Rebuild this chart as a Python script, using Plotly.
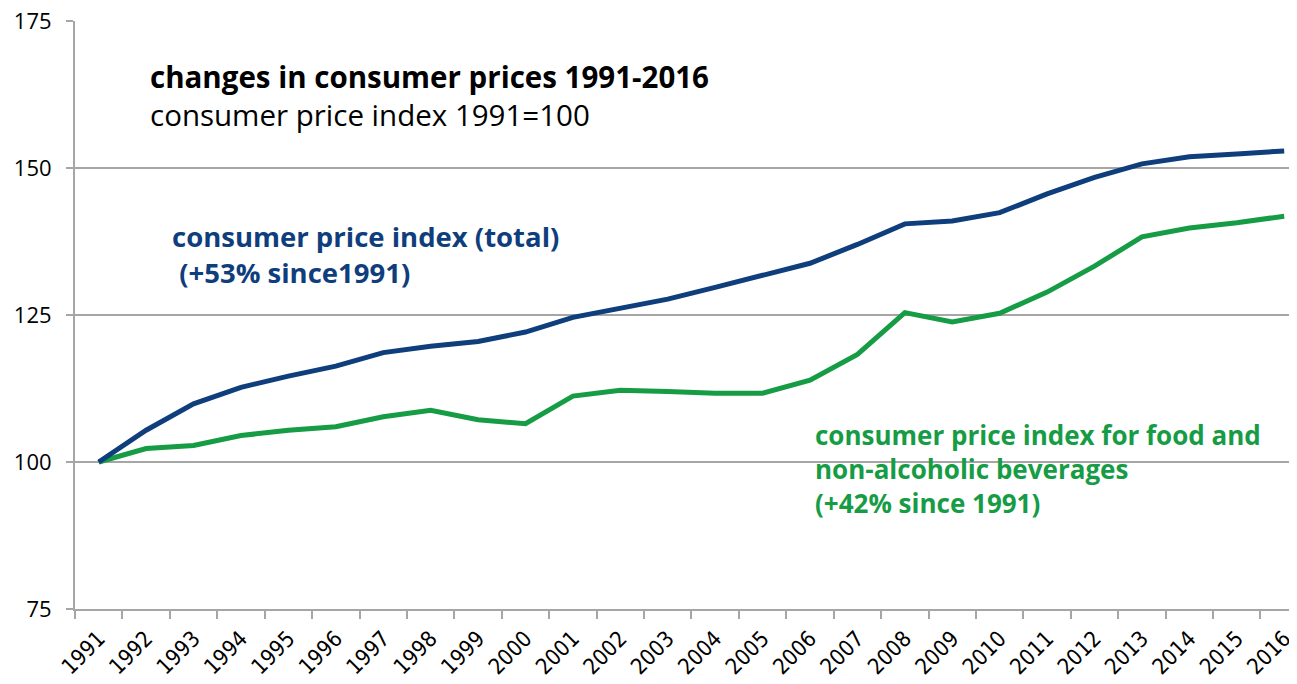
import plotly.graph_objects as go

years = [str(y) for y in range(1991, 2017)]
cpi_total = [100, 105.4, 109.9, 112.7, 114.6, 116.3, 118.6, 119.7, 120.5, 122.1,
             124.6, 126.2, 127.7, 129.7, 131.8, 133.8, 137.0, 140.5, 141.0, 142.4,
             145.6, 148.4, 150.7, 151.9, 152.4, 152.9]
cpi_food = [100, 102.3, 102.8, 104.5, 105.4, 106.0, 107.7, 108.8, 107.2, 106.5,
            111.2, 112.2, 112.0, 111.7, 111.7, 113.9, 118.3, 125.4, 123.8, 125.3,
            128.9, 133.3, 138.3, 139.8, 140.7, 141.8]
y_ticks = [75, 100, 125, 150, 175]

BLUE = "#0f3e7c"
GREEN = "#169c44"
GRAY = "#a6a6a6"
FONT = "Open Sans"

# the page body adds an 8px offset; size the figure so page positions match
OFF = 8
W, H = 1297 - OFF, 684 - OFF
L, R, T, B = 75 - OFF, 0, 21 - OFF, 75

fig = go.Figure()
fig.add_trace(go.Scatter(x=years, y=cpi_food, mode="lines",
                         line=dict(color=GREEN, width=5), name="food"))
fig.add_trace(go.Scatter(x=years, y=cpi_total, mode="lines",
                         line=dict(color=BLUE, width=5), name="total"))

def px(xp):
    return (xp - OFF - L) / (W - L - R)

def py(yp):
    return (H - B - (yp - OFF)) / (H - T - B)

anns = [
    ("<b>changes in consumer prices 1991-2016</b><br>consumer price index 1991=100",
     148, 95, "black", 29.5),
    ("<b>consumer price index (total)<br>&nbsp;(+53% since1991)</b>", 170, 254, BLUE, 27.5),
    ("<b>consumer price index for food and<br>non-alcoholic beverages<br>(+42% since 1991)</b>",
     813, 469, GREEN, 26),
]
for text, xp, yp, col, size in anns:
    fig.add_annotation(text=text, x=px(xp), y=py(yp), xref="paper", yref="paper",
                       xanchor="left", yanchor="middle", align="left", showarrow=False,
                       font=dict(family=FONT, size=size, color=col))

fig.update_layout(
    width=W, height=H,
    margin=dict(l=L, r=R, t=T, b=B, autoexpand=False),
    plot_bgcolor="white", paper_bgcolor="white",
    showlegend=False,
    font=dict(family=FONT, color="black"),
)
fig.update_xaxes(
    type="category", range=[-0.5, 25.27], automargin=False,
    showgrid=False, showline=True, linecolor=GRAY, linewidth=2,
    ticks="outside", tickson="boundaries", ticklen=8, tickcolor=GRAY, tickwidth=2,
    tickangle=-45, tickfont=dict(family="DejaVu Sans Condensed", size=22, color="black"),
    ticklabelstandoff=6, ticklabeloverflow="allow",
)
fig.update_yaxes(
    range=[75, 175], tickvals=y_ticks, automargin=False,
    showgrid=True, gridcolor=GRAY, gridwidth=2,
    showline=True, linecolor=GRAY, linewidth=2, zeroline=False,
    ticks="outside", ticklen=7, tickcolor=GRAY, tickwidth=2,
    tickfont=dict(family=FONT, size=22, color="black"),
    ticklabelstandoff=10, ticklabeloverflow="allow",
)

fig.write_html("out.html")
